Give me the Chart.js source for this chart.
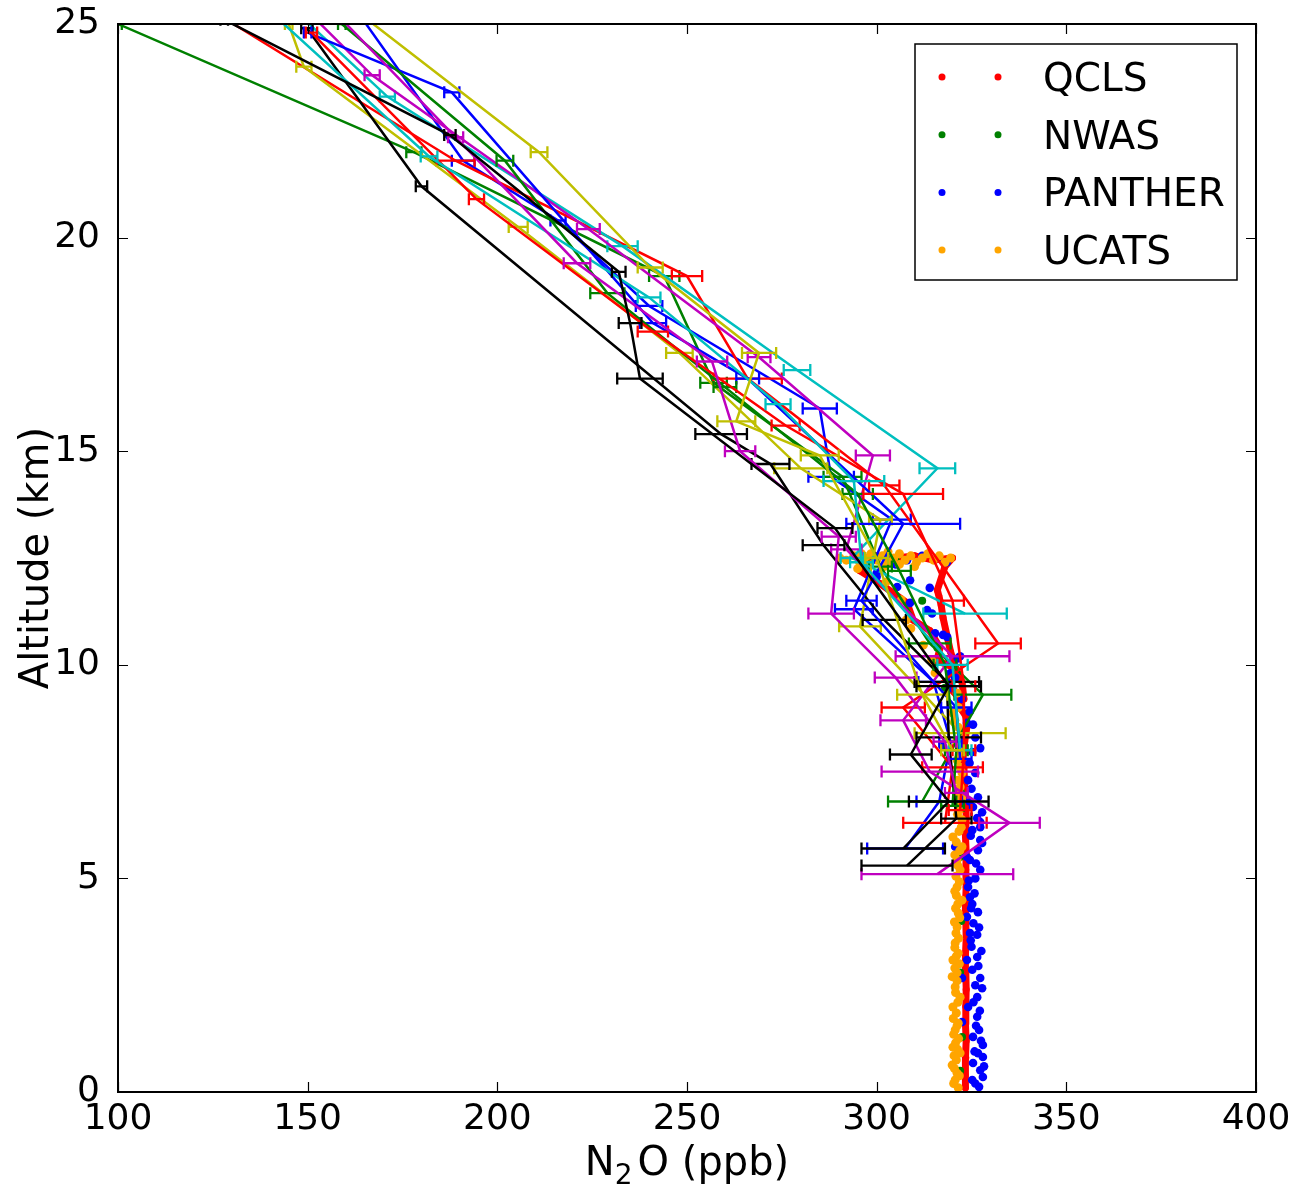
<!DOCTYPE html>
<html><head><meta charset="utf-8">
<script src="https://cdn.jsdelivr.net/npm/chart.js@4.4.1/dist/chart.umd.min.js"></script>
<style>html,body{margin:0;padding:0;background:#fff;}canvas{display:block;}</style>
</head><body>
<canvas id="c" width="1302" height="1189"></canvas>
<script>
// ---- axis ticks ----
const xTicks = [100, 150, 200, 250, 300, 350, 400];
const yTicks = [0, 5, 10, 15, 20, 25];

// ---- legend ----
const legendLabels = ['QCLS', 'NWAS', 'PANTHER', 'UCATS'];

// ---- in-situ scatter: [altitude km, N2O ppb] ----
const qcls = [[0.1,323.4],[0.4,323.3],[0.8,323.5],[1.2,323.6],[1.6,323.4],[2.0,323.5],[2.4,323.6],[2.8,323.5],[3.2,323.4],[3.6,323.6],[4.0,323.5],[4.4,323.4],[4.8,323.6],[5.2,323.5],[5.6,323.6],[6.0,323.4],[6.4,323.6],[6.8,323.5],[7.2,323.2],[7.6,323.0],[7.9,322.8],[8.2,323.2],[8.55,323.8],[8.8,323.5],[9.0,322.0],[9.25,321.5],[9.5,318.8],[9.7,321.0],[9.95,320.0],[10.1,315.9],[10.4,316.7],[10.8,314.0],[11.05,309.6],[11.45,308.0],[11.9,300.9],[12.2,295.6],[12.45,297],[12.55,300],[12.5,305],[12.55,310],[12.45,315],[12.5,320],[12.3,318],[11.75,316],[11.4,317],[11.1,317.5],[10.7,318.5],[10.3,319.5],[9.9,321],[9.6,322.5],[9.2,323]];
const nwas = [[12.45,305],[11.5,312],[10.4,316],[9.46,318],[8.2,321.5],[7.0,322.3],[5.5,322.0],[4.0,322.3],[2.8,322.0],[1.29,322.5],[0.5,322.0]];
const panther = [[0.12,327.0],[0.2,326.0],[0.28,325.2],[0.35,328.0],[0.51,327.3],[0.6,328.3],[0.68,325.4],[0.82,328.0],[0.91,326.7],[0.95,325.8],[1.1,328.0],[1.2,327.5],[1.29,325.4],[1.45,327.0],[1.55,326.2],[1.64,322.5],[1.76,326.5],[1.9,327.2],[1.99,324.1],[2.1,325.5],[2.22,326.5],[2.43,327.8],[2.5,326.0],[2.67,327.3],[2.67,322.5],[2.86,325.2],[2.95,326.8],[3.09,323.8],[3.16,326.5],[3.3,327.6],[3.4,325.0],[3.55,324.8],[3.68,326.5],[3.72,324.6],[3.85,327.0],[3.95,325.5],[4.1,323.8],[4.21,326.7],[4.3,324.9],[4.4,325.2],[4.56,324.6],[4.65,325.8],[4.8,324.1],[4.95,324.3],[5.0,326.0],[5.2,327.3],[5.35,326.2],[5.43,324.6],[5.5,323.8],[5.66,326.7],[5.74,320.7],[5.83,327.8],[5.9,327.3],[6.0,324.8],[6.13,325.2],[6.2,327.3],[6.32,327.3],[6.41,326.5],[6.55,327.8],[6.67,325.4],[6.8,324.5],[6.9,326.7],[7.1,325.0],[7.3,324.1],[7.47,326.0],[7.7,324.5],[7.96,325.2],[8.05,327.3],[8.08,317.5],[8.3,326.0],[8.6,325.4],[8.64,323.8],[8.9,324.5],[9.2,322.5],[9.45,320.0],[9.7,320.7],[9.8,319.4],[10.15,321.4],[10.2,322.0],[10.65,318.6],[10.7,317.5],[10.74,315.4],[11.2,314.6],[11.28,313.3],[11.45,308.8],[11.8,314.0],[11.82,305.4],[11.98,308.8],[12.06,300.0],[12.15,300.0],[12.4,296.4],[12.5,303],[12.45,308],[12.55,312],[12.5,316],[12.4,318.5],[12.55,299],[12.35,305]];
const ucats = [[0.1,321.5],[0.2,320.3],[0.28,320.7],[0.38,321.8],[0.44,321.2],[0.55,320.5],[0.63,319.9],[0.75,321.0],[0.85,320.4],[0.91,322.0],[1.0,321.3],[1.05,320.1],[1.15,320.8],[1.25,321.6],[1.35,320.3],[1.45,320.7],[1.55,321.2],[1.61,321.5],[1.72,320.2],[1.85,321.0],[1.99,320.1],[2.1,321.4],[2.22,322.0],[2.33,320.8],[2.46,320.7],[2.6,321.2],[2.7,319.9],[2.79,321.2],[2.9,320.6],[3.0,321.8],[3.09,320.1],[3.18,321.0],[3.25,321.5],[3.38,320.6],[3.49,320.7],[3.6,321.6],[3.72,320.9],[3.86,321.2],[3.98,320.5],[4.08,321.9],[4.19,321.5],[4.3,320.8],[4.4,321.4],[4.49,322.5],[4.6,321.0],[4.7,320.6],[4.8,321.2],[4.92,321.8],[5.05,320.9],[5.2,322.0],[5.3,321.4],[5.43,321.2],[5.55,320.6],[5.65,321.9],[5.74,322.5],[5.85,321.0],[5.97,320.1],[6.1,321.7],[6.2,322.3],[6.37,322.5],[6.5,321.3],[6.62,322.0],[6.75,321.5],[6.88,322.4],[7.0,321.6],[7.14,322.0],[7.3,321.4],[7.47,322.5],[7.6,322.0],[7.77,321.2],[7.9,322.2],[8.08,322.0],[8.2,321.0],[8.35,322.5],[8.54,321.5],[8.7,320.6],[8.87,320.1],[9.0,321.5],[9.34,321.2],[9.81,315.4],[10.11,314.5],[10.46,312.3],[10.85,309.0],[11.05,307.8],[11.52,306.5],[11.94,302.5],[12.25,295],[12.5,290.3],[12.45,292],[12.55,294],[12.4,295.5],[12.5,297],[12.6,298.5],[12.45,300],[12.55,301.5],[12.4,303],[12.5,304.5],[12.6,306],[12.45,307.5],[12.55,309],[12.4,310.5],[12.5,312],[12.6,313.5],[12.45,315],[12.55,316.5],[12.4,318],[12.5,319.5],[12.35,298],[12.3,302],[12.35,306],[12.3,310],[12.6,296],[12.65,303]];

// ---- flask / whole-air profiles: [altitude km, N2O ppb, error ppb] ----
const profB1 = [[25.3,163,1.5],[21.8,191,3],[20.4,216,2],[18.4,240,3.5],[16.0,285,4.5],[14.4,288,6],[13.4,304,5],[11.3,294,5],[9.6,315,4],[8.2,319.5,3],[6.8,316.5,6],[5.7,307.5,10]];
const profG1 = [[25.0,100,1],[22.0,178,2],[19.1,244,4],[16.6,257,3.5],[14.4,291,5],[12.3,301,3],[10.5,314,5.5],[9.3,328,7.5],[6.8,312,9]];
const profR1 = [[25.3,125,1],[21.8,189,5],[19.1,250,4],[16.7,266,9],[14.2,302,4],[10.5,332,6],[9.0,307,5.7],[7.6,320,8],[6.3,318,11]];
const profC1 = [[25.2,148,1],[23.3,171,2],[19.8,233,4],[16.9,279,3.5],[14.6,316,4.7],[12.5,293.5,3],[11.2,323.3,11]];
const profM1 = [[25.3,150,1],[23.8,167,2],[20.2,224,3],[17.2,269,3],[14.9,299,4.5],[12.7,292,4],[10.2,320,15],[8.7,307,6],[7.5,314,12.7],[6.3,335,8],[5.1,316,20]];
const profY1 = [[25.0,145,1],[24.0,149,2],[20.25,205.5,2.5],[17.3,248,3.5],[14.6,280,7],[13.4,301,3],[10.9,295.6,5.5],[8.4,322,12]];
const profK1 = [[24.9,149.8,1.5],[21.2,180,1.5],[15.4,259,6.8],[14.7,272,5],[12.8,286,5.5],[11.05,302,5.7],[9.6,318.5,8.5],[8.3,319,8.5],[6.4,321,4],[5.3,308,12]];
const profB2 = [[24.8,150,1],[23.4,188,2],[18.0,241,3.5],[16.7,266,3],[13.3,307,15],[11.5,296,4],[9.0,321,4],[7.8,322,3]];
const profG2 = [[25.0,159,1],[21.8,202,2.2],[18.7,229,4.5],[16.5,260,3],[14.0,295,4],[12.2,306,3],[10.0,318,3],[8.0,321,3],[6.7,320,3]];
const profR2 = [[24.8,151,1.5],[20.9,194.5,2],[17.8,241,4],[15.6,276,3.7],[14.0,307,10.5],[11.5,320,3],[9.5,323,3],[8.0,323,3],[6.6,322,3]];
const profC2 = [[25.3,140,1],[21.9,182,2.2],[18.6,240,3],[16.1,274,3.3],[14.3,294,8],[12.4,296,3],[10.0,320,4],[8.0,322,3]];
const profM2 = [[25.2,158,1],[22.35,189,2],[19.4,221,3.5],[17.1,256.6,4],[15.0,264,4],[13.0,290,4.5],[11.2,288,6],[9.7,305,5.5],[8.2,318,3],[7.0,321,3]];
const profY2 = [[25.5,160,1],[22.0,211,2.2],[19.3,240.3,3.3],[17.3,269,4.5],[15.7,263,5],[14.9,285,5],[12.5,300,3],[9.3,312,6.6],[8.0,320,3]];
const profK2 = [[25.1,128,1],[22.4,187.5,1.5],[19.2,232,1.8],[18.0,235,3],[16.7,237.6,6],[13.2,289,4.6],[9.5,319,8.5],[7.9,309,5.5],[6.8,319,10.5],[5.7,307,11]];

const FONT = '"DejaVu Sans", "Liberation Sans", sans-serif';
const C = {b:'#0000ff', g:'#008000', r:'#ff0000', c:'#00bfbf', m:'#bf00bf', y:'#bfbf00', k:'#000000', o:'#ffa500'};

const profiles = [
  [profB1, C.b], [profG1, C.g], [profR1, C.r], [profC1, C.c], [profM1, C.m], [profY1, C.y], [profK1, C.k],
  [profB2, C.b], [profG2, C.g], [profR2, C.r], [profC2, C.c], [profM2, C.m], [profY2, C.y], [profK2, C.k]
];

const toXY = arr => arr.map(p => ({x: p[1], y: p[0]}));

const datasets = [];
profiles.forEach(([arr, col], i) => {
  datasets.push({
    data: toXY(arr), errors: arr.map(p => p[2]),
    showLine: true, borderColor: col, backgroundColor: col, borderWidth: 2.5,
    pointRadius: 0, pointHoverRadius: 0, tension: 0, order: 13 - i
  });
});
datasets.push({data: toXY(qcls), showLine: true, borderColor: C.r, backgroundColor: C.r, borderWidth: 7,
  borderJoinStyle: 'round', borderCapStyle: 'round', pointRadius: 3.5, pointBorderWidth: 0, order: 40});
datasets.push({data: toXY(nwas), showLine: false, backgroundColor: C.g, borderColor: C.g, pointRadius: 4, pointBorderWidth: 0, order: 39});
datasets.push({data: toXY(panther), showLine: false, backgroundColor: C.b, borderColor: C.b, pointRadius: 4.3, pointBorderWidth: 0, order: 38});
datasets.push({data: toXY(ucats), showLine: false, backgroundColor: C.o, borderColor: C.o, pointRadius: 4.5, pointBorderWidth: 0, order: 37});

const errPlugin = {
  id: 'errbars',
  afterDatasetDraw(chart, args) {
    const ds = chart.data.datasets[args.index];
    if (!ds.errors) return;
    const xs = chart.scales.x, ys = chart.scales.y, ctx = chart.ctx, a = chart.chartArea;
    ctx.save();
    ctx.beginPath(); ctx.rect(a.left, a.top, a.right - a.left, a.bottom - a.top); ctx.clip();
    ctx.strokeStyle = ds.borderColor; ctx.lineWidth = 2.3;
    ds.data.forEach((p, i) => {
      const e = ds.errors[i];
      const x0 = xs.getPixelForValue(p.x - e), x1 = xs.getPixelForValue(p.x + e), y = ys.getPixelForValue(p.y);
      ctx.beginPath();
      ctx.moveTo(x0, y); ctx.lineTo(x1, y);
      ctx.moveTo(x0, y - 6); ctx.lineTo(x0, y + 6);
      ctx.moveTo(x1, y - 6); ctx.lineTo(x1, y + 6);
      ctx.stroke();
    });
    ctx.restore();
  }
};

const framePlugin = {
  id: 'frame',
  afterDraw(chart) {
    const ctx = chart.ctx, a = chart.chartArea, xs = chart.scales.x, ys = chart.scales.y;
    ctx.save();
    // ticks (inward, all four sides)
    ctx.strokeStyle = '#000'; ctx.lineWidth = 1.2;
    ctx.beginPath();
    xTicks.forEach(v => {
      const px = Math.round(xs.getPixelForValue(v)) + 0.5;
      ctx.moveTo(px, a.bottom); ctx.lineTo(px, a.bottom - 10);
      ctx.moveTo(px, a.top); ctx.lineTo(px, a.top + 10);
    });
    yTicks.forEach(v => {
      const py = Math.round(ys.getPixelForValue(v)) + 0.5;
      ctx.moveTo(a.left, py); ctx.lineTo(a.left + 10, py);
      ctx.moveTo(a.right, py); ctx.lineTo(a.right - 10, py);
    });
    ctx.stroke();
    // frame
    ctx.lineWidth = 2;
    ctx.strokeRect(a.left, a.top, a.right - a.left, a.bottom - a.top);

    // legend
    const lx = 915, ly = 44, lw = 322, lh = 236;
    ctx.fillStyle = '#fff'; ctx.fillRect(lx, ly, lw, lh);
    ctx.lineWidth = 1.5; ctx.strokeStyle = '#000'; ctx.strokeRect(lx, ly, lw, lh);
    const lcols = [C.r, C.g, C.b, C.o];
    ctx.font = '39px ' + FONT; ctx.textAlign = 'left'; ctx.textBaseline = 'alphabetic';
    legendLabels.forEach((t, i) => {
      const cy = 77 + i * 57.7;
      ctx.fillStyle = lcols[i];
      [942, 998].forEach(cx => { ctx.beginPath(); ctx.arc(cx, cy, 3.5, 0, Math.PI * 2); ctx.fill(); });
      ctx.fillStyle = '#000';
      ctx.fillText(t, 1043, cy + 14);
    });

    // x axis title: N2O (ppb) with subscript
    const cx = (a.left + a.right) / 2, base = 1175;
    ctx.fillStyle = '#000';
    ctx.font = '40px ' + FONT;
    const wN = ctx.measureText('N').width, wRest = ctx.measureText('O (ppb)').width;
    ctx.font = '28px ' + FONT;
    const w2 = ctx.measureText('2').width;
    const gap = 5;
    let x = cx - (wN + w2 + gap + wRest) / 2;
    ctx.font = '40px ' + FONT; ctx.fillText('N', x, base); x += wN;
    ctx.font = '28px ' + FONT; ctx.fillText('2', x, base + 9); x += w2 + gap;
    ctx.font = '40px ' + FONT; ctx.fillText('O (ppb)', x, base);

    // y axis title
    ctx.save();
    ctx.translate(48, (a.top + a.bottom) / 2);
    ctx.rotate(-Math.PI / 2);
    ctx.textAlign = 'center'; ctx.font = '40px ' + FONT;
    ctx.fillText('Altitude (km)', 0, 0);
    ctx.restore();
    ctx.restore();
  }
};

new Chart(document.getElementById('c'), {
  type: 'scatter',
  data: { datasets },
  options: {
    responsive: false, animation: false, devicePixelRatio: 1,
    layout: { padding: { top: 24, right: 46, left: 0, bottom: 0 } },
    plugins: { legend: { display: false }, tooltip: { enabled: false } },
    events: [],
    scales: {
      x: {
        type: 'linear', min: 100, max: 400,
        afterFit(s) { s.height = 97; s.paddingLeft = 0; s.paddingRight = 0; },
        afterBuildTicks(s) { s.ticks = xTicks.map(v => ({value: v})); },
        ticks: { font: { family: FONT, size: 36 }, color: '#000', padding: 6, maxRotation: 0, autoSkip: false },
        grid: { display: false, drawTicks: false }, border: { display: false }
      },
      y: {
        type: 'linear', min: 0, max: 25,
        afterFit(s) { s.width = 118; s.paddingTop = 0; s.paddingBottom = 0; },
        afterBuildTicks(s) { s.ticks = yTicks.map(v => ({value: v})); },
        ticks: { font: { family: FONT, size: 36 }, color: '#000', padding: 18, autoSkip: false },
        grid: { display: false, drawTicks: false }, border: { display: false }
      }
    }
  },
  plugins: [errPlugin, framePlugin]
});
</script>
</body></html>
